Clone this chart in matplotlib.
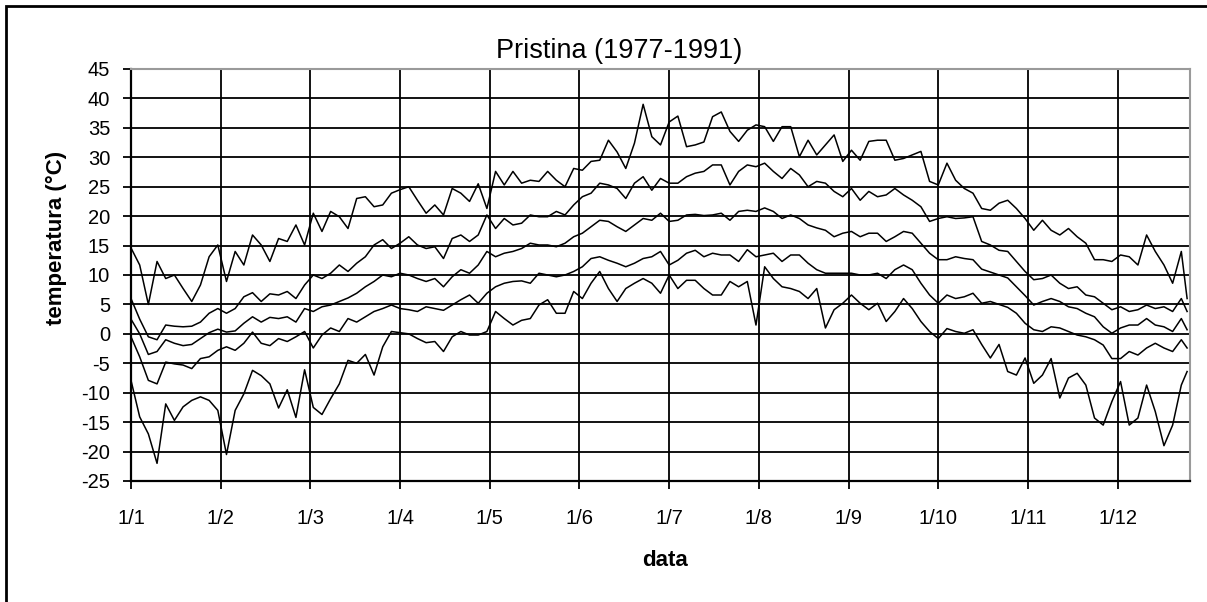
import matplotlib
matplotlib.use('Agg')  # no display
import matplotlib.pyplot as plt
import numpy as np
from matplotlib.patches import Rectangle

plt.rcParams['font.family'] = ['Liberation Sans', 'DejaVu Sans']
plt.rcParams['axes.unicode_minus'] = False  # plain hyphen like the original

# day of year, read every 3 days (last point = end of year)
day = np.append(np.arange(0, 364, 3), 365)

month_ticks = np.arange(0, 342, 31)
month_labels = ['1/1', '1/2', '1/3', '1/4', '1/5', '1/6',
                '1/7', '1/8', '1/9', '1/10', '1/11', '1/12']

# absolute maximum
tmax_abs = [14.6, 11.7, 5.0, 12.3, 9.4, 10.0, 7.7, 5.5, 8.3, 13.1, 15.1, 8.9, 14.0, 11.7, 16.8, 15.1, 12.3,
            16.2, 15.7, 18.5, 15.1, 20.5, 17.4, 20.8, 19.9, 17.9, 23.0, 23.3, 21.6, 21.9, 23.9, 24.5, 25.0, 22.7, 20.5,
            21.9, 20.2, 24.7, 23.9, 22.5, 25.5, 21.3, 27.6, 25.3, 27.6, 25.6, 26.1, 25.9, 27.6, 26.1, 25.0, 28.1,
            27.8, 29.3, 29.5, 32.9, 30.9, 28.1, 32.4, 39.0, 33.5, 32.1, 36.0, 37.0, 31.8, 32.1, 32.6, 36.9, 37.7,
            34.4, 32.7, 34.6, 35.5, 35.2, 32.7, 35.2, 35.2, 30.1, 32.9, 30.4, 32.1, 33.8, 29.3, 31.2, 29.5, 32.7, 32.9,
            32.9, 29.5, 29.8, 30.4, 31.0, 25.9, 25.3, 29.0, 26.1, 24.7, 23.9, 21.3, 21.0, 22.2, 22.7, 21.3, 19.6,
            17.6, 19.3, 17.6, 16.8, 17.9, 16.5, 15.4, 12.6, 12.6, 12.3, 13.4, 13.1, 11.7, 16.8, 14.0, 11.7, 8.6, 14.0,
            6.0]

# mean maximum
tmax_mean = [6.0, 2.5, -0.5, -1.0, 1.5, 1.3, 1.2, 1.3, 2.0, 3.5, 4.3, 3.5, 4.3, 6.3, 7.0, 5.5, 6.8,
             6.6, 7.2, 6.0, 8.3, 10.0, 9.4, 10.3, 11.7, 10.6, 12.0, 13.1, 15.1, 16.0, 14.5, 15.4, 16.5, 15.1, 14.5,
             14.8, 12.8, 16.2, 16.8, 15.7, 16.8, 20.2, 17.9, 19.6, 18.5, 18.8, 20.2, 19.9, 19.9, 20.8, 20.2, 21.9,
             23.3, 23.9, 25.6, 25.3, 24.7, 23.0, 25.6, 26.7, 24.4, 26.4, 25.6, 25.6, 26.7, 27.3, 27.6, 28.7, 28.7,
             25.3, 27.6, 28.7, 28.4, 29.0, 27.6, 26.4, 28.1, 27.0, 25.0, 25.9, 25.6, 24.2, 23.3, 24.7, 22.7, 24.2, 23.3,
             23.6, 24.7, 23.6, 22.7, 21.6, 19.1, 19.6, 19.9, 19.6, 19.7, 19.9, 15.7, 15.1, 14.2, 14.0, 12.3, 10.6,
             9.2, 9.4, 10.0, 8.6, 7.7, 8.0, 6.6, 6.3, 5.2, 4.1, 4.6, 3.8, 4.1, 4.9, 4.3, 4.6, 3.8, 6.0,
             3.8]

# mean
t_mean = [2.5, 0.0, -3.5, -3.0, -1.0, -1.6, -2.0, -1.8, -0.8, 0.2, 0.8, 0.3, 0.5, 1.8, 2.9, 2.0, 2.8,
          2.6, 2.9, 2.0, 4.3, 3.8, 4.6, 4.9, 5.5, 6.1, 6.9, 8.0, 8.9, 10.0, 9.7, 10.3, 10.0, 9.4, 8.9,
          9.4, 8.0, 9.7, 10.9, 10.3, 11.7, 14.0, 13.1, 13.7, 14.0, 14.5, 15.4, 15.1, 15.1, 14.8, 15.4, 16.5,
          17.1, 18.2, 19.3, 19.1, 18.2, 17.4, 18.5, 19.6, 19.3, 20.5, 19.1, 19.3, 20.2, 20.3, 20.1, 20.2, 20.5,
          19.3, 20.8, 21.0, 20.8, 21.4, 20.8, 19.6, 20.2, 19.6, 18.5, 18.0, 17.6, 16.5, 17.1, 17.4, 16.5, 17.1, 17.1,
          15.7, 16.5, 17.4, 17.1, 15.4, 13.7, 12.6, 12.6, 13.1, 12.8, 12.6, 11.0, 10.5, 10.0, 9.5, 8.0, 6.5,
          4.9, 5.5, 6.0, 5.5, 4.6, 4.3, 3.5, 2.9, 1.2, 0.1, 1.0, 1.5, 1.5, 2.6, 1.5, 1.2, 0.4, 2.6,
          0.7]

# mean minimum
tmin_mean = [-0.5, -3.9, -7.9, -8.5, -4.8, -5.1, -5.3, -5.9, -4.2, -3.9, -2.8, -2.2, -2.8, -1.6, 0.3, -1.6, -2.0,
             -0.8, -1.3, -0.5, 0.4, -2.4, -0.2, 1.0, 0.4, 2.6, 2.0, 2.9, 3.8, 4.3, 4.9, 4.3, 4.1, 3.8, 4.6,
             4.3, 4.0, 4.9, 5.8, 6.6, 5.2, 6.9, 8.0, 8.6, 8.9, 9.0, 8.6, 10.3, 10.0, 9.7, 10.0, 10.6,
             11.4, 12.8, 13.1, 12.5, 12.0, 11.4, 12.0, 12.8, 13.1, 14.0, 11.7, 12.5, 13.7, 14.2, 13.1, 13.7, 13.4,
             13.4, 12.3, 14.3, 13.1, 13.4, 13.7, 12.3, 13.4, 13.4, 12.0, 10.9, 10.3, 10.3, 10.3, 10.3, 10.0, 10.0, 10.3,
             9.4, 10.9, 11.7, 10.9, 8.6, 6.6, 5.2, 6.6, 6.0, 6.3, 6.9, 5.2, 5.5, 5.0, 4.5, 3.5, 1.8,
             0.7, 0.4, 1.2, 1.0, 0.4, -0.2, -0.5, -1.0, -1.9, -4.2, -4.2, -3.0, -3.6, -2.4, -1.6, -2.4, -3.0, -1.0,
             -2.4]

# absolute minimum
tmin_abs = [-7.9, -14.1, -17.0, -22.0, -11.9, -14.7, -12.4, -11.3, -10.7, -11.3, -13.0, -20.5, -13.0, -10.2, -6.2, -7.1, -8.5,
            -12.6, -9.5, -14.2, -6.1, -12.5, -13.7, -11.0, -8.5, -4.5, -5.0, -3.5, -7.0, -2.2, 0.4, 0.2, 0.0, -0.8, -1.5,
            -1.3, -3.0, -0.5, 0.4, -0.2, -0.2, 0.4, 3.8, 2.6, 1.5, 2.3, 2.6, 4.9, 5.8, 3.5, 3.5, 7.2,
            6.0, 8.6, 10.6, 7.7, 5.5, 7.7, 8.6, 9.4, 8.6, 6.9, 10.0, 7.7, 9.1, 9.1, 7.7, 6.6, 6.6,
            8.9, 8.0, 8.9, 1.5, 11.4, 9.4, 8.0, 7.7, 7.2, 6.0, 7.7, 1.0, 4.1, 5.2, 6.6, 5.2, 4.1, 5.2,
            2.1, 3.8, 6.0, 4.3, 2.1, 0.4, -0.8, 0.9, 0.4, 0.1, 0.7, -1.8, -4.1, -1.8, -6.4, -7.0, -4.1,
            -8.4, -7.0, -4.2, -10.9, -7.5, -6.7, -8.7, -14.3, -15.5, -11.5, -8.1, -15.5, -14.3, -8.7, -13.2, -19.0, -15.5, -8.7,
            -6.4]

W, H = 1207, 602
fig = plt.figure(figsize=(W / 100, H / 100), dpi=100)
ax = fig.add_axes([131 / W, 1 - 481 / H, (1190 - 131) / W, (481 - 69) / H])

for series in (tmax_abs, tmax_mean, t_mean, tmin_mean, tmin_abs):
    ax.plot(day, series, color='black', lw=1.1)

ax.set_xlim(0, 366)
ax.set_ylim(-25, 45)
ax.set_yticks(range(-25, 46, 5))
ax.set_xticks(month_ticks)
ax.set_xticklabels(month_labels)
ax.grid(True, color='black', lw=1.3)
ax.tick_params(axis='both', direction='out', length=6, width=1.3, labelsize=14.5, colors='black')
ax.tick_params(axis='y', pad=9)
ax.tick_params(axis='x', pad=14)
for side in ('top', 'right'):
    ax.spines[side].set_color('#9a9a9a')
    ax.spines[side].set_linewidth(1.5)
for side in ('left', 'bottom'):
    ax.spines[side].set_color('black')
    ax.spines[side].set_linewidth(1.6)

fig.text(619 / W, 1 - 51 / H, 'Pristina (1977-1991)', ha='center', va='center', fontsize=19.5)
fig.text(56 / W, 1 - 238 / H, 'temperatura (°C)', rotation=90, ha='center', va='center',
         fontsize=16, fontweight='bold')
fig.text(665 / W, 1 - 561 / H, 'data', ha='center', va='center', fontsize=16, fontweight='bold')

# chart area border (runs off the right and bottom of the picture)
fig.add_artist(Rectangle((6 / W, -0.05), 1.2, 1.05 - 6 / H, transform=fig.transFigure,
                         fill=False, edgecolor='black', lw=2))

fig.savefig('out.png', dpi=100)
